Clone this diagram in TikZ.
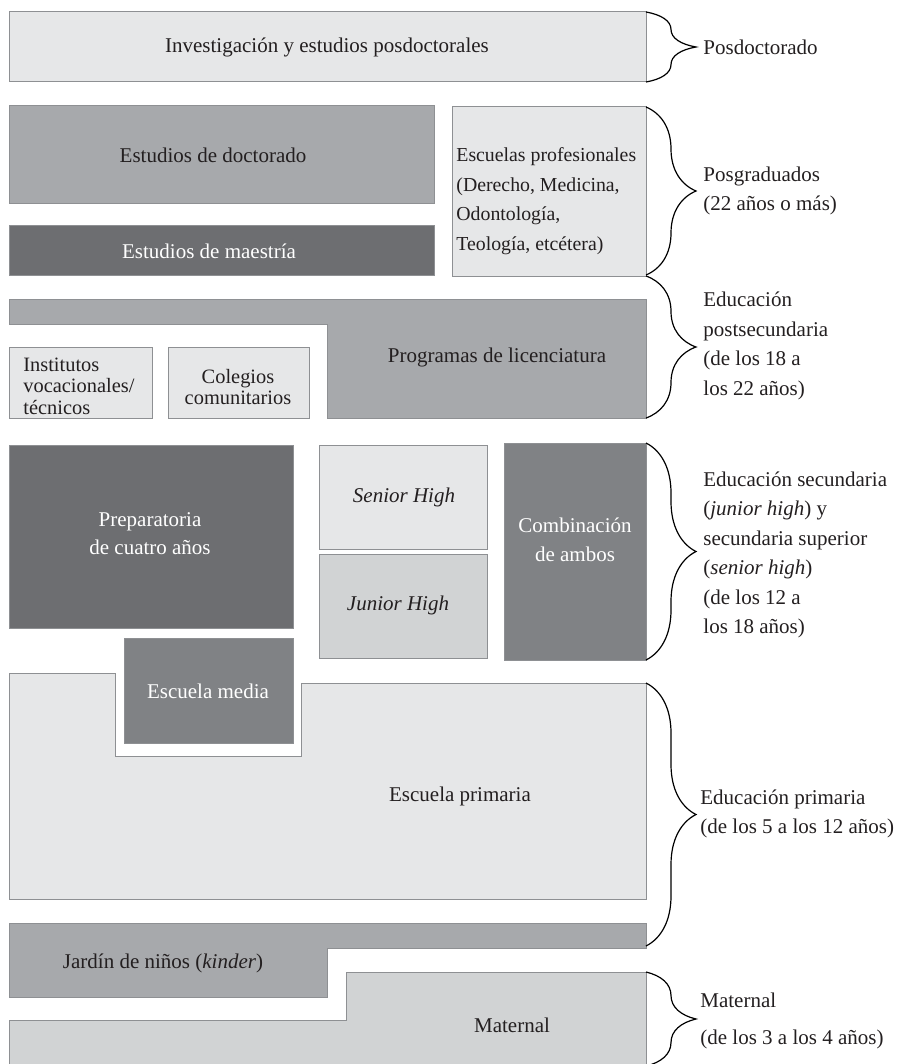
\documentclass[tikz,border=0pt]{standalone}
\usepackage{fontspec}
\setmainfont{Liberation Serif}
\usetikzlibrary{decorations.pathreplacing}
\definecolor{grisA}{HTML}{E6E7E8}
\definecolor{grisB}{HTML}{D1D3D4}
\definecolor{grisC}{HTML}{A7A9AC}
\definecolor{grisD}{HTML}{808285}
\definecolor{grisE}{HTML}{6D6E71}
\definecolor{borde}{HTML}{8E9093}
\definecolor{tinta}{HTML}{231F20}
\begin{document}
\begin{tikzpicture}[x=0.5pt, y=-0.5pt, font=\fontsize{10.5}{14.75}\selectfont, text=tinta,
    caja/.style = {draw=borde, line width=0.5pt},
    claro/.style = {text=white},
    apretado/.style = {font=\fontsize{10.2}{10.8}\selectfont},
    llave/.style = {decorate, decoration={brace, amplitude=25pt}, line width=0.6pt},
    etiq/.style = {anchor=west, align=left, inner sep=0pt}]
    \useasboundingbox (0,0) rectangle (896,1064);

    % bloques
    \path[caja, fill=grisA] (9,12) rectangle (646,82);
    \path[caja, fill=grisC] (9,106) rectangle (434,204);
    \path[caja, fill=grisE] (9,226) rectangle (434,275);
    \path[caja, fill=grisA] (452,107) rectangle (646,276);
    \path[caja, fill=grisC] (9,299) -- (646,299) -- (646,418) -- (327,418) -- (327,324) -- (9,324) -- cycle;
    \path[caja, fill=grisA] (9,347) rectangle (152,418);
    \path[caja, fill=grisA] (168,347) rectangle (309,418);
    \path[caja, fill=grisE] (9,445) rectangle (293,628);
    \path[caja, fill=grisA] (319,445) rectangle (487,549);
    \path[caja, fill=grisB] (319,554) rectangle (487,658);
    \path[caja, fill=grisD] (504,443) rectangle (646,660);
    \path[caja, fill=grisD] (124,638) rectangle (293,743);
    \path[caja, fill=grisA] (9,673) -- (115,673) -- (115,756) -- (301,756) -- (301,683) -- (646,683) -- (646,899) -- (9,899) -- cycle;
    \path[caja, fill=grisC] (9,923) -- (646,923) -- (646,948) -- (327,948) -- (327,997) -- (9,997) -- cycle;
    \path[caja, fill=grisB] (346,972) -- (646,972) -- (646,1064) -- (9,1064) -- (9,1020) -- (346,1020) -- cycle;

    \node (inv) at (327,47) {Investigación y estudios posdoctorales};
    \node (doct) at (213,155) {Estudios de doctorado};
    \node[claro] (maest) at (209,251) {Estudios de maestría};
    \node[etiq, font=\fontsize{9.9}{14.75}\selectfont] (prof) at (456,201) {Escuelas profesionales\\(Derecho, Medicina,\\Odontología,\\Teología, etcétera)};
    \node (lic) at (497,357) {Programas de licenciatura};
    \node[etiq, apretado] (inst) at (23,386) {Institutos\\vocacionales/\\técnicos};
    \node[apretado, align=center] (coleg) at (238,387) {Colegios\\comunitarios};
    \node[claro, align=center, font=\fontsize{10.5}{14}\selectfont] (prep) at (150,534) {Preparatoria\\de cuatro años};
    \node (senior) at (404,497) {\textit{Senior High}};
    \node (junior) at (398,605) {\textit{Junior High}};
    \node[claro, align=center] (comb) at (575,540) {Combinación\\de ambos};
    \node[claro] (media) at (208,691) {Escuela media};
    \node (prim) at (460,796) {Escuela primaria};
    \node (jard) at (163,963) {Jardín de niños (\textit{kinder})};
    \node (mat) at (512,1025) {Maternal};

    % llaves
    \coordinate (l1a) at (646,12);  \coordinate (l1b) at (646,82);
    \coordinate (l2a) at (646,107); \coordinate (l2b) at (646,275);
    \coordinate (l3a) at (646,276); \coordinate (l3b) at (646,418);
    \coordinate (l4a) at (646,443); \coordinate (l4b) at (646,660);
    \coordinate (l5a) at (646,683); \coordinate (l5b) at (646,946);
    \coordinate (l6a) at (646,972); \coordinate (l6b) at (646,1066);
    \draw[llave] (l1a) -- (l1b);
    \draw[llave] (l2a) -- (l2b);
    \draw[llave] (l3a) -- (l3b);
    \draw[llave] (l4a) -- (l4b);
    \draw[llave] (l5a) -- (l5b);
    \draw[llave] (l6a) -- (l6b);

    \node[etiq] (tpos) at (703,47) {Posdoctorado};
    \node[etiq] (tposg) at (703,191) {Posgraduados\\(22 años o más)};
    \node[etiq] (tpost) at (703,346) {Educación\\postsecundaria\\(de los 18 a\\los 22 años)};
    \node[etiq] (tsec) at (703,555) {Educación secundaria\\(\textit{junior high}) y\\secundaria superior\\(\textit{senior high})\\(de los 12 a\\los 18 años)};
    \node[etiq] (tprim) at (700,814) {Educación primaria\\(de los 5 a los 12 años)};
    \node[etiq] (tmat) at (700,1021) {Maternal\\[3.75pt](de los 3 a los 4 años)};
\end{tikzpicture}
\end{document}
